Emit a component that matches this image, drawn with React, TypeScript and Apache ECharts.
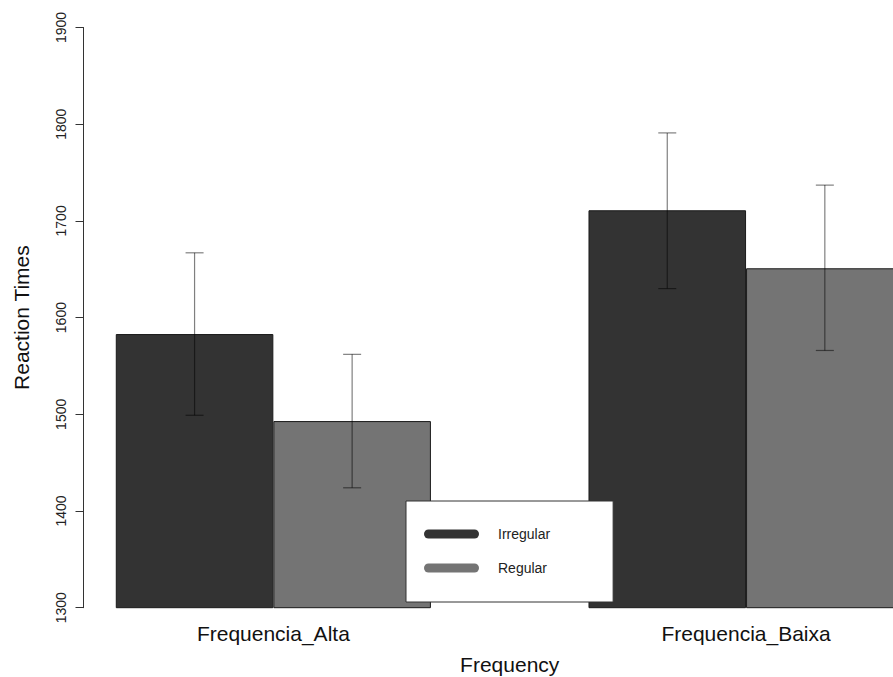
import React, { useEffect, useRef } from "react";
import * as echarts from "echarts";

const categories = ["Frequencia_Alta", "Frequencia_Baixa"];
const seriesNames = ["Irregular", "Regular"];
const irregularMeans = [1583, 1711];
const regularMeans = [1493, 1651];
const irregularLow = [1499, 1630];
const irregularHigh = [1667, 1791];
const regularLow = [1424, 1566];
const regularHigh = [1562, 1737];
const yTicks = [1300, 1400, 1500, 1600, 1700, 1800, 1900];

const FONT = "Liberation Sans, Arial, Helvetica, sans-serif";

function errorSeries(low: number[], high: number[], side: number) {
  const data = categories.map((_, i) => [i, low[i], high[i]]);
  return {
    type: "custom",
    name: "err" + side,
    silent: true,
    z: 5,
    data,
    renderItem: (params: any, api: any) => {
      const idx = api.value(0);
      const lo = api.coord([idx, api.value(1)]);
      const hi = api.coord([idx, api.value(2)]);
      const band = api.size([1, 0])[0];
      const x = lo[0] + side * band / 6;
      const cap = 9;
      const style = { stroke: "rgba(0,0,0,0.5)", lineWidth: 1.2 };
      return {
        type: "group",
        children: [
          { type: "line", shape: { x1: x, y1: lo[1], x2: x, y2: hi[1] }, style },
          { type: "line", shape: { x1: x - cap, y1: lo[1], x2: x + cap, y2: lo[1] }, style },
          { type: "line", shape: { x1: x - cap, y1: hi[1], x2: x + cap, y2: hi[1] }, style },
        ],
      };
    },
  };
}

export default function App() {
  const ref = useRef<HTMLDivElement>(null);
  useEffect(() => {
    if (!ref.current) return;
    const chart = echarts.init(ref.current, null, { renderer: "svg" });
    const pill = "path://M4.5,0H50.5A4.5,4.5,0,0,1,50.5,9H4.5A4.5,4.5,0,0,1,4.5,0Z";
    chart.setOption({
      animation: false,
      backgroundColor: "#ffffff",
      textStyle: { fontFamily: FONT },
      grid: {
        left: 37,
        width: 945.4,
        top: 27.5,
        bottom: 69.3,
        containLabel: false,
        outerBoundsMode: "none",
      },
      legend: {
        orient: "vertical",
        left: 406,
        top: 501,
        padding: [26, 63, 27, 18],
        itemGap: 20,
        itemWidth: 55,
        itemHeight: 9,
        backgroundColor: "#ffffff",
        borderColor: "#333333",
        borderWidth: 1,
        borderRadius: 0,
        itemStyle: { borderWidth: 0 },
        data: [
          { name: seriesNames[0], icon: pill },
          { name: seriesNames[1], icon: pill },
        ],
        textStyle: { fontSize: 14, color: "#222", fontFamily: FONT, padding: [0, 0, 0, 14] },
      },
      xAxis: {
        type: "category",
        data: categories,
        axisLine: { show: false },
        axisTick: { show: false },
        axisLabel: { fontSize: 21, color: "#111", margin: 15, fontFamily: FONT },
        name: "Frequency",
        nameLocation: "middle",
        nameGap: 46,
        nameTextStyle: { fontSize: 21, color: "#111", fontFamily: FONT },
      },
      yAxis: {
        type: "value",
        min: 1300,
        max: 1900,
        interval: 100,
        offset: -46.5,
        axisLine: { show: true, lineStyle: { color: "#333", width: 1 } },
        axisTick: { show: true, length: 8, lineStyle: { color: "#333" } },
        axisLabel: {
          rotate: 90,
          fontSize: 14,
          color: "#222",
          margin: 16,
          fontFamily: FONT,
          formatter: (v: number) => (yTicks.includes(v) ? String(v) : ""),
        },
        splitLine: { show: false },
        name: "Reaction Times",
        nameLocation: "middle",
        nameGap: 52,
        nameRotate: 90,
        nameTextStyle: { fontSize: 21, color: "#111", fontFamily: FONT },
      },
      series: [
        {
          type: "bar",
          name: seriesNames[0],
          data: irregularMeans,
          barWidth: "33.333%",
          barGap: "0%",
          itemStyle: { color: "#333333", borderColor: "#1a1a1a", borderWidth: 1 },
        },
        {
          type: "bar",
          name: seriesNames[1],
          data: regularMeans,
          barWidth: "33.333%",
          barGap: "0%",
          itemStyle: { color: "#747474", borderColor: "#1a1a1a", borderWidth: 1 },
        },
        errorSeries(irregularLow, irregularHigh, -1),
        errorSeries(regularLow, regularHigh, 1),
      ],
    });
    return () => chart.dispose();
  }, []);
  return (
    <div
      ref={ref}
      style={{ position: "fixed", left: 0, top: 0, width: 893, height: 677, background: "#fff" }}
    />
  );
}
